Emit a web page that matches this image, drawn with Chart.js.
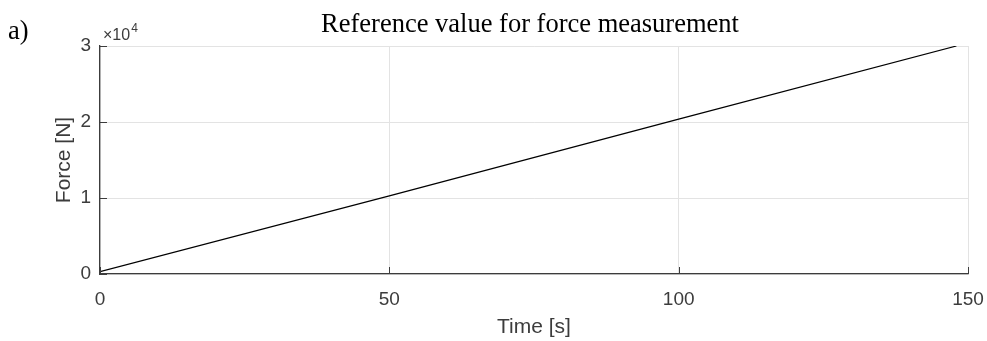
<!DOCTYPE html>
<html lang="en">
  <head>
    <meta charset="UTF-8">
    <title>Reference value for force measurement</title>
    <style>
    html, body {
      margin: 0;
      padding: 0;
      background-color: #ffffff;
    }
    .wrapper {
      width: 987px;
      height: 341px;
    }
    </style>
  </head>
  <body>
    <div class="wrapper">
      <canvas id="plot" width="987" height="341"></canvas>
    </div>
    <script src="https://cdn.jsdelivr.net/npm/chart.js"></script>
    <script>
      // values
      const timeSec = [0, 50, 100, 148];
      const forceN = [300, 10280, 20380, 30000];
      const xTicks = [0, 50, 100, 150];
      const yTicks = [0, 10000, 20000, 30000];

      const axisGrey = '#3c3c3c';
      const gridGrey = '#e3e3e3';
      const sans = 'Liberation Sans, Arial, sans-serif';
      const serif = 'Liberation Serif, Times New Roman, serif';

      // title, panel letter, exponent and MATLAB style inward ticks
      const extras = {
        id: 'extras',
        afterDraw(chart) {
          const { ctx, chartArea, scales } = chart;
          ctx.save();

          ctx.fillStyle = '#000';
          ctx.textBaseline = 'alphabetic';
          ctx.font = '26.5px ' + serif;
          ctx.textAlign = 'center';
          ctx.fillText('Reference value for force measurement', 530, 32);
          ctx.textAlign = 'left';
          ctx.fillText('a)', 8, 39);

          ctx.fillStyle = axisGrey;
          ctx.font = '16px ' + sans;
          ctx.fillText('\u00d710', 103, 40);
          const w = ctx.measureText('\u00d710').width;
          ctx.font = '12px ' + sans;
          ctx.fillText('4', 103 + w + 1, 32);

          ctx.strokeStyle = axisGrey;
          ctx.lineWidth = 1;
          ctx.beginPath();
          xTicks.forEach((t) => {
            const x = Math.round(scales.x.getPixelForValue(t)) + 0.5;
            ctx.moveTo(x, chartArea.bottom);
            ctx.lineTo(x, chartArea.bottom - 7);
          });
          yTicks.forEach((t) => {
            const y = Math.round(scales.y.getPixelForValue(t)) + 0.5;
            ctx.moveTo(chartArea.left, y);
            ctx.lineTo(chartArea.left + 7, y);
          });
          ctx.stroke();
          ctx.restore();
        }
      };

      new Chart(document.getElementById('plot'), {
        type: 'scatter',
        data: {
          datasets: [{
            label: 'Force',
            data: timeSec.map((t, i) => ({ x: t, y: forceN[i] })),
            showLine: true,
            borderColor: '#000000',
            backgroundColor: '#000000',
            borderWidth: 1.2,
            pointRadius: 0,
          }]
        },
        options: {
          responsive: false,
          animation: false,
          layout: {
            padding: { top: 46, right: 19, left: 0, bottom: 0 }
          },
          plugins: {
            legend: { display: false },
            tooltip: { enabled: false },
          },
          scales: {
            x: {
              type: 'linear',
              min: 0,
              max: 150,
              afterFit: (s) => {
                s.height = 67;
                s.paddingLeft = 0;
                s.paddingRight = 0;
              },
              afterBuildTicks: (s) => { s.ticks = xTicks.map((v) => ({ value: v })); },
              grid: { color: gridGrey, drawTicks: false },
              border: { color: axisGrey, width: 1.3 },
              ticks: {
                color: axisGrey,
                padding: 14,
                maxRotation: 0,
                font: { family: sans, size: 19 },
              },
              title: {
                display: true,
                text: 'Time [s]',
                color: axisGrey,
                padding: { top: 0, bottom: 1 },
                font: { family: sans, size: 21 },
              },
            },
            y: {
              min: 0,
              max: 30000,
              afterFit: (s) => { s.width = 100; },
              afterBuildTicks: (s) => { s.ticks = yTicks.map((v) => ({ value: v })); },
              grid: { color: gridGrey, drawTicks: false },
              border: { color: axisGrey, width: 1.3 },
              ticks: {
                color: axisGrey,
                padding: 9,
                font: { family: sans, size: 19 },
                callback: (v) => v / 10000,
              },
              title: {
                display: true,
                text: 'Force [N]',
                color: axisGrey,
                padding: { top: 52, bottom: 0 },
                font: { family: sans, size: 21 },
              },
            },
          }
        },
        plugins: [extras]
      });
    </script>
  </body>
</html>
